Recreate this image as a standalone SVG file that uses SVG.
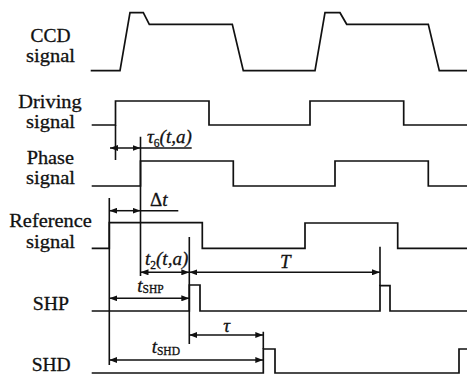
<svg xmlns="http://www.w3.org/2000/svg" width="467" height="374" viewBox="0 0 467 374">
<style>
.w{fill:none;stroke:#111;stroke-width:1.7;stroke-linejoin:miter}
.g{fill:none;stroke:#111;stroke-width:1.6}
.d{fill:none;stroke:#111;stroke-width:1.5;marker-start:url(#ah);marker-end:url(#ah)}
text{font-family:'Liberation Serif','Times New Roman',serif;fill:#111;stroke:#111;stroke-width:0.3}
.lab{font-size:19px;text-anchor:middle}
.it{font-size:19px;font-style:italic}
.sub{font-size:11.5px;font-style:normal}
</style>
<defs>
<marker id="ah" viewBox="0 0 8 6" refX="8" refY="3" markerWidth="8" markerHeight="6" markerUnits="userSpaceOnUse" orient="auto-start-reverse">
<path d="M0,0 L8,3 L0,6 Z" fill="#111"/>
</marker>
</defs>
<rect width="467" height="374" fill="#fff"/>

<g id="ccd">
<text class="lab" x="50.5" y="41.7" textLength="40" lengthAdjust="spacingAndGlyphs">CCD</text>
<text class="lab" x="50.5" y="62" textLength="49" lengthAdjust="spacingAndGlyphs">signal</text>
<path class="w" d="M90.7,70.7 H120 L130,12.7 H143.3 L149.3,24.3 H232.3 L243.3,70.7 H315 L325,12.7 H340 L346.7,24.3 H428.3 L439.3,70.7 H467"/>
</g>

<g id="driving">
<text class="lab" x="50" y="108.3" textLength="63.4" lengthAdjust="spacingAndGlyphs">Driving</text>
<text class="lab" x="50.5" y="128.3" textLength="49" lengthAdjust="spacingAndGlyphs">signal</text>
<path class="w" d="M91.7,125 H115.5 V101 H209 V125 H310 V101 H403.7 V125 H467"/>
</g>

<g id="phase">
<text class="lab" x="50.3" y="164" textLength="47.3" lengthAdjust="spacingAndGlyphs">Phase</text>
<text class="lab" x="50.5" y="184" textLength="49" lengthAdjust="spacingAndGlyphs">signal</text>
<path class="w" d="M91.7,186 H140.5 V161 H233.3 V186 H335 V161 H428.3 V186 H467"/>
</g>

<g id="reference">
<text class="lab" x="50.5" y="227.3" textLength="82.4" lengthAdjust="spacingAndGlyphs">Reference</text>
<text class="lab" x="50.5" y="248" textLength="49" lengthAdjust="spacingAndGlyphs">signal</text>
<path class="w" d="M91.7,248.3 H109.3 V222.7 H202.3 V248.3 H305 V223 H397.7 V248.3 H467"/>
</g>

<g id="shp">
<text class="lab" x="50.8" y="310" textLength="36.3" lengthAdjust="spacingAndGlyphs">SHP</text>
<path class="w" d="M91.7,311 H189.3 V285 H200 V311 H380 V285.7 H390 V311 H467"/>
</g>

<g id="shd">
<text class="lab" x="51.2" y="370.5" textLength="39" lengthAdjust="spacingAndGlyphs">SHD</text>
<path class="w" d="M91.7,373 H263.3 V349 H275 V373 H459 V349 H467"/>
</g>

<g id="connectors">
<path class="g" d="M115.5,125 V160 M140.5,136.7 V276 M109.3,198 V365 M189.3,237 V344 M380,246.7 V286 M263.3,331.7 V349"/>
<path class="g" d="M140.5,148 H191.7 M140.5,210.7 H178.3"/>
<path class="d" d="M110,148 H140.5"/>
<path class="d" d="M109.3,210.7 H140.5"/>
<path class="d" d="M140.5,272.3 H189.3"/>
<path class="d" d="M189.3,272.3 H380"/>
<path class="d" d="M109.3,298.3 H189.3"/>
<path class="d" d="M189.3,335 H263.3"/>
<path class="d" d="M109.3,360 H263.3"/>
</g>

<g id="labels">
<text class="it" x="147" y="143">τ<tspan class="sub" dy="4">6</tspan><tspan dy="-4">(t,a)</tspan></text>
<text class="it" x="150" y="205.5"><tspan font-style="normal">Δ</tspan>t</text>
<text class="it" x="145" y="265">t<tspan class="sub" dy="4">2</tspan><tspan dy="-4">(t,a)</tspan></text>
<text class="it" x="280" y="268.3">T</text>
<text class="it" x="137.3" y="291.5">t<tspan class="sub" dy="1.5">SHP</tspan></text>
<text class="it" x="223.3" y="331.5">τ</text>
<text class="it" x="151.7" y="353.3">t<tspan class="sub" dy="1.5">SHD</tspan></text>
</g>
</svg>
